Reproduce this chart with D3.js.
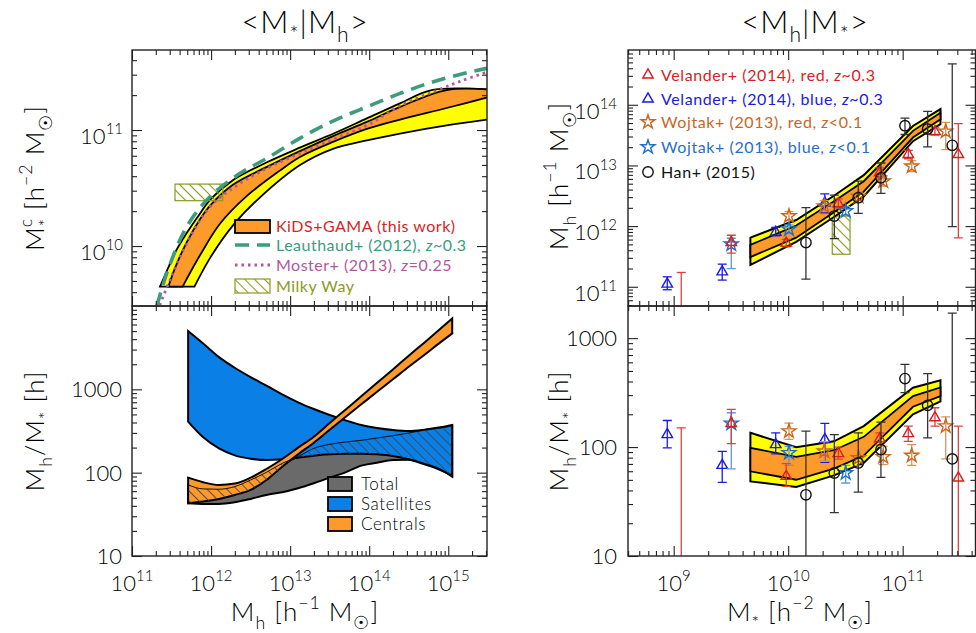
<!DOCTYPE html>
<html>
<head>
<meta charset="utf-8">
<script src="https://cdn.jsdelivr.net/npm/d3@7"></script>
<style>
  body { margin: 0; background: #fff; }
  svg { font-family: Lato, "DejaVu Sans", sans-serif; font-weight: 300; }
  .leg { font-weight: 400; }
</style>
</head>
<body>
<div id="fig"></div>
<script>
const p = v => Math.pow(10, v)

// ---------- top left: <M*|Mh>, pairs of [log Mh, log M*] ----------
const kidsYellowUp = [[11.354, 9.65], [11.45, 9.80], [11.55, 9.95], [11.69, 10.11], [11.85, 10.27], [11.99, 10.40], [12.28, 10.57], [12.7, 10.72], [13.13, 10.85], [13.55, 10.97], [13.97, 11.10], [14.39, 11.23], [14.79, 11.345], [15.6, 11.345]]
const kidsOrangeUp = [[11.46, 9.65], [11.55, 9.82], [11.69, 10.03], [11.85, 10.22], [11.99, 10.35], [12.28, 10.53], [12.7, 10.68], [13.13, 10.82], [13.55, 10.95], [13.97, 11.07], [14.39, 11.20], [14.98, 11.345], [15.6, 11.345]]
const kidsOrangeLo = [[11.64, 9.65], [11.86, 9.92], [12.11, 10.19], [12.45, 10.43], [12.87, 10.65], [13.13, 10.77], [13.55, 10.90], [13.97, 11.01], [14.39, 11.09], [14.98, 11.19], [15.6, 11.30]]
const kidsYellowLo = [[11.79, 9.65], [11.99, 9.90], [12.28, 10.18], [12.62, 10.42], [13.13, 10.70], [13.55, 10.84], [13.97, 10.91], [14.39, 10.97], [14.98, 11.04], [15.6, 11.10]]
const leauthaud = [[11.316, 9.483], [11.439, 9.764], [11.692, 10.166], [11.987, 10.425], [12.367, 10.627], [12.705, 10.756], [13.127, 10.93], [13.549, 11.08], [13.971, 11.20], [14.392, 11.316], [14.814, 11.417], [15.236, 11.494], [15.489, 11.532]]
const moster = [[11.35, 9.49], [11.481, 9.707], [11.692, 10.023], [11.987, 10.339], [12.367, 10.54], [12.705, 10.67], [13.127, 10.80], [13.549, 10.92], [13.971, 11.04], [14.392, 11.21], [14.814, 11.33], [15.152, 11.42], [15.489, 11.50]]
const milkyWayMh = [11.544, 12.148]
const milkyWayMs = [10.391, 10.534]

// ---------- bottom left: Mh/M* against log Mh ----------
const mhGrid = [11.71, 11.9, 12.1, 12.3, 12.5, 12.7, 12.9, 13.1, 13.3, 13.5, 13.7, 13.9, 14.1, 14.3, 14.5, 14.7, 14.9, 15.05]
const satUpper = [3.699, 3.551, 3.387, 3.259, 3.147, 3.044, 2.940, 2.844, 2.764, 2.692, 2.628, 2.572, 2.536, 2.512, 2.500, 2.516, 2.544, 2.572]
const satLower = [2.612, 2.424, 2.292, 2.208, 2.168, 2.152, 2.160, 2.180, 2.204, 2.220, 2.228, 2.228, 2.220, 2.200, 2.160, 2.100, 2.032, 1.964]
const totUpper = [1.853, 1.805, 1.801, 1.833, 1.912, 2.004, 2.112, 2.192, 2.292, 2.340, 2.368, 2.388, 2.416, 2.444, 2.476, 2.512, 2.536, 2.560]
const totLower = [1.633, 1.625, 1.625, 1.645, 1.685, 1.733, 1.765, 1.813, 1.873, 1.940, 2.004, 2.084, 2.120, 2.152, 2.156, 2.112, 2.044, 1.952]
const cenUpper = [1.940, 1.885, 1.853, 1.869, 1.940, 2.044, 2.164, 2.300, 2.432, 2.596, 2.756, 2.916, 3.079, 3.239, 3.403, 3.563, 3.727, 3.851]
const cenLower = [1.633, 1.653, 1.685, 1.733, 1.793, 1.912, 2.072, 2.220, 2.360, 2.516, 2.668, 2.820, 2.972, 3.120, 3.271, 3.415, 3.563, 3.671]

// ---------- right column: <Mh|M*>, band on a log M* grid ----------
const msGrid = [9.67, 10.07, 10.40, 10.66, 11.09, 11.33]
const mhYellowUp = [11.81, 12.10, 12.50, 12.84, 13.65, 13.93]
const mhOrangeUp = [11.69, 12.01, 12.41, 12.74, 13.57, 13.87]
const mhOrangeLo = [11.49, 11.81, 12.23, 12.57, 13.46, 13.76]
const mhYellowLo = [11.36, 11.74, 12.15, 12.49, 13.40, 13.68]
const ratioYellowUp = [2.131, 1.998, 2.053, 2.192, 2.545, 2.613]
const ratioOrangeUp = [1.993, 1.910, 1.971, 2.094, 2.468, 2.548]
const ratioOrangeLo = [1.777, 1.700, 1.802, 1.922, 2.370, 2.468]
const ratioYellowLo = [1.685, 1.633, 1.740, 1.854, 2.300, 2.420]
const milkyWayR = [10.385, 10.54]   // log M* range of the box
const milkyWayRMh = [11.536, 12.166]

// measurements: [log M*, value, low end, high end] (log10)
const velRedMh = [[9.066, 10.3, 9.5, 11.236], [9.503, 11.73, 11.553, 11.849], [9.983, 11.72, 11.66, 11.78], [10.438, 12.37, 12.30, 12.45], [10.80, 12.88, 12.80, 12.96], [11.049, 13.18, 13.11, 13.25], [11.282, 13.56, 13.50, 13.62], [11.486, 13.18, 11.805, 13.688]]
const velBlueMh = [[8.944, 11.044, 10.951, 11.164], [9.424, 11.246, 11.11, 11.373], [9.891, 11.90, 11.84, 11.98], [10.32, 12.38, 12.22, 12.53]]
const wojRedMh = [[10.007, 12.166, 12.09, 12.24], [10.315, 12.33, 12.24, 12.42], [10.615, 12.49, 12.42, 12.56], [10.83, 12.74, 12.66, 12.83], [11.079, 12.987, 12.90, 13.08], [11.376, 13.562, 13.26, 13.71]]
const wojBlueMh = [[9.503, 11.70, 11.30, 11.80], [10.007, 11.95, 11.88, 12.02], [10.502, 12.248, 12.18, 12.32]]
const hanMh = [[10.155, 11.729, 11.126, 12.304], [10.403, 12.166, 11.795, 12.51], [10.612, 12.468, 12.21, 12.74], [10.81, 12.796, 12.54, 13.04], [11.02, 13.655, 13.51, 13.78], [11.218, 13.60, 13.305, 13.89], [11.433, 13.332, 11.99, 14.673]]

const velRedR = [[9.066, 0.5, 0.2, 2.177], [9.503, 2.217, 2.032, 2.346], [9.983, 1.731, 1.639, 1.848], [10.438, 1.94, 1.89, 2.0], [10.80, 2.076, 2.02, 2.131], [11.049, 2.124, 2.053, 2.192], [11.282, 2.269, 2.192, 2.361], [11.486, 1.716, 0.3, 2.192]]
const velBlueR = [[8.944, 2.115, 1.993, 2.244], [9.424, 1.832, 1.676, 1.961], [9.891, 2.023, 1.937, 2.131], [10.32, 2.069, 1.86, 2.217]]
const wojRedR = [[10.007, 2.146, 2.07, 2.22], [10.315, 1.961, 1.87, 2.05], [10.615, 1.90, 1.83, 1.97], [10.83, 1.91, 1.839, 2.007], [11.079, 1.922, 1.832, 2.023], [11.376, 2.192, 1.891, 2.278]]
const wojBlueR = [[9.503, 2.217, 1.80, 2.315], [10.007, 1.947, 1.832, 2.007], [10.502, 1.762, 1.67, 1.832]]
const hanR = [[10.155, 1.562, 0.3, 2.146], [10.403, 1.762, 1.399, 2.115], [10.612, 1.854, 1.587, 2.131], [10.81, 1.977, 1.722, 2.229], [11.02, 2.629, 2.50, 2.76], [11.218, 2.383, 2.085, 2.675], [11.433, 1.891, 0.3, 3.23]]

// tick labels (exponents)
const xLeftTicks = [11, 12, 13, 14, 15]
const yTopLeftTicks = [10, 11]
const xRightTicks = [9, 10, 11]
const yTopRightTicks = [11, 12, 13, 14]
const yRatioTicks = [1, 2, 3]

const C = {
  yellow: "#ffff00", orange: "#fd9a2a", blue: "#0a7fe6", gray: "#6a6a6a",
  leau: "#3d9c7e", moster: "#b5579d", mw: "#8a9a20", kids: "#d42626",
  velRed: "#d81e1e", velBlue: "#1a1ae6", wojRed: "#c8661e", wojBlue: "#1f6fce", han: "#111"
}

const svg = d3.select("#fig").append("svg").attr("width", 976).attr("height", 633)
const defs = svg.append("defs")

function hatch(id, color, gap, w) {
  defs.append("pattern").attr("id", id)
    .attr("patternUnits", "userSpaceOnUse")
    .attr("width", gap).attr("height", gap)
    .attr("patternTransform", "rotate(-45)")
    .append("line")
    .attr("x1", gap / 2).attr("x2", gap / 2).attr("y1", 0).attr("y2", gap)
    .attr("stroke", color).attr("stroke-width", w)
}
hatch("mw", C.mw, 7, 1.1)
hatch("tot", "#3a4a5a", 7, 0.9)

const L = [132, 487], R = [628, 975.5], TOP = [50, 306], BOT = [306, 556]

const xL = d3.scaleLog().domain([p(11), p(15.49)]).range(L)
const yTL = d3.scaleLog().domain([p(9.483), p(11.69)]).range([TOP[1], TOP[0]])
const yBL = d3.scaleLog().domain([p(1), p(4)]).range([BOT[1], BOT[0]])
const xR = d3.scaleLog().domain([p(8.601), p(11.636)]).range(R)
const yTR = d3.scaleLog().domain([p(10.683), p(14.903)]).range([TOP[1], TOP[0]])
const yBR = d3.scaleLog().domain([p(1), p(3.295)]).range([BOT[1], BOT[0]])

function panel(id, x, y, bx, by) {
  defs.append("clipPath").attr("id", id).append("rect")
    .attr("x", bx[0]).attr("y", by[0]).attr("width", bx[1] - bx[0]).attr("height", by[1] - by[0])
  const g = svg.append("g")
  const plot = g.append("g").attr("clip-path", `url(#${id})`)
  return {g, plot, x, y, bx, by}
}

function minorTicks(scale) {
  const [a, b] = scale.domain().map(Math.log10)
  const out = []
  for (let d = Math.floor(a); d < b; d++)
    for (let k = 2; k < 10; k++) {
      const v = d + Math.log10(k)
      if (v > a && v < b) out.push(p(v))
    }
  return out
}

function frame(pn, xMaj, yMaj) {
  const {g, x, y, bx, by} = pn
  const put = (axis, tx, ty) => g.append("g").attr("transform", `translate(${tx},${ty})`).call(axis)
    .call(s => s.select(".domain").remove())
    .call(s => s.selectAll(".tick line").attr("stroke", "#222").attr("stroke-width", 1.1))
  for (const [vals, len] of [[xMaj.map(p), 10], [minorTicks(x), 5]]) {
    put(d3.axisBottom(x).tickValues(vals).tickSize(-len).tickFormat(""), 0, by[1])
    put(d3.axisTop(x).tickValues(vals).tickSize(-len).tickFormat(""), 0, by[0])
  }
  for (const [vals, len] of [[yMaj.map(p), 10], [minorTicks(y), 5]]) {
    put(d3.axisLeft(y).tickValues(vals).tickSize(-len).tickFormat(""), bx[0], 0)
    put(d3.axisRight(y).tickValues(vals).tickSize(-len).tickFormat(""), bx[1], 0)
  }
  g.append("rect").attr("x", bx[0]).attr("y", by[0])
    .attr("width", bx[1] - bx[0]).attr("height", by[1] - by[0])
    .attr("fill", "none").attr("stroke", "#222").attr("stroke-width", 1.4)
}

// text with sub/superscripts: parts = [text, "sub"|"sup"|null, dx]
function rich(t, parts, size) {
  let off = 0
  t.attr("font-size", size)
  parts.forEach(([s, k, dx]) => {
    const target = k === "sub" ? size * 0.3 : k === "sup" ? -size * 0.45 : 0
    const ts = t.append("tspan").attr("dy", target - off).attr("font-size", k ? size * 0.68 : size).text(s)
    if (dx) ts.attr("dx", dx)
    off = target
  })
  return t
}

const TICK = 22
function xPowLabels(x, exps, yb) {
  exps.forEach(e => rich(svg.append("text").attr("x", x(p(e))).attr("y", yb).attr("text-anchor", "middle"),
    [["10"], [String(e), "sup"]], TICK))
}
function yPowLabels(y, exps, xr) {
  exps.forEach(e => rich(svg.append("text").attr("x", xr).attr("y", y(p(e)) + 14).attr("text-anchor", "end"),
    [["10"], [String(e), "sup"]], TICK))
}
function yPlainLabels(y, exps, xr) {
  exps.forEach(e => svg.append("text").attr("x", xr).attr("y", y(p(e)) + 8).attr("text-anchor", "end")
    .attr("font-size", TICK).text(String(Math.round(p(e)))))
}

// ================= top left =================
const tl = panel("c-tl", xL, yTL, L, TOP)
const lineTL = d3.line().x(d => xL(p(d[0]))).y(d => yTL(p(d[1]))).curve(d3.curveCatmullRom.alpha(0.5))
const bandTL = (up, lo) => lineTL(up) + "L" + lineTL(lo.slice().reverse()).slice(1) + "Z"

tl.plot.append("path").attr("d", bandTL(kidsYellowUp, kidsYellowLo))
  .attr("fill", C.yellow).attr("stroke", "#000").attr("stroke-width", 1.8)
tl.plot.append("path").attr("d", bandTL(kidsOrangeUp, kidsOrangeLo))
  .attr("fill", C.orange).attr("stroke", "#000").attr("stroke-width", 1.8)
tl.plot.append("rect")
  .attr("x", xL(p(milkyWayMh[0]))).attr("y", yTL(p(milkyWayMs[1])))
  .attr("width", xL(p(milkyWayMh[1])) - xL(p(milkyWayMh[0])))
  .attr("height", yTL(p(milkyWayMs[0])) - yTL(p(milkyWayMs[1])))
  .attr("fill", "url(#mw)").attr("stroke", C.mw).attr("stroke-width", 1.2)
tl.plot.append("path").attr("d", lineTL(leauthaud)).attr("fill", "none")
  .attr("stroke", C.leau).attr("stroke-width", 3.6).attr("stroke-dasharray", "14,8")
tl.plot.append("path").attr("d", lineTL(moster)).attr("fill", "none")
  .attr("stroke", C.moster).attr("stroke-width", 2.8).attr("stroke-dasharray", "2.5,4")

const legTL = tl.g.append("g").attr("class", "leg").attr("font-size", 16).attr("letter-spacing", 0.5)
legTL.append("rect").attr("x", 235).attr("y", 220).attr("width", 35).attr("height", 13)
  .attr("fill", C.orange).attr("stroke", "#000").attr("stroke-width", 1.8)
legTL.append("text").attr("x", 276).attr("y", 232).attr("fill", C.kids).text("KiDS+GAMA (this work)")
legTL.append("line").attr("x1", 235).attr("x2", 270).attr("y1", 245).attr("y2", 245)
  .attr("stroke", C.leau).attr("stroke-width", 3.6).attr("stroke-dasharray", "14,8")
const t2 = legTL.append("text").attr("x", 276).attr("y", 251).attr("fill", C.leau)
t2.append("tspan").text("Leauthaud+ (2012), ")
t2.append("tspan").attr("font-style", "italic").text("z")
t2.append("tspan").text("~0.3")
legTL.append("line").attr("x1", 235).attr("x2", 270).attr("y1", 265).attr("y2", 265)
  .attr("stroke", C.moster).attr("stroke-width", 2.8).attr("stroke-dasharray", "2.5,4")
const t3 = legTL.append("text").attr("x", 276).attr("y", 271).attr("fill", C.moster)
t3.append("tspan").text("Moster+ (2013), ")
t3.append("tspan").attr("font-style", "italic").text("z")
t3.append("tspan").text("=0.25")
legTL.append("rect").attr("x", 235).attr("y", 279).attr("width", 35).attr("height", 14)
  .attr("fill", "url(#mw)").attr("stroke", C.mw).attr("stroke-width", 1.2)
legTL.append("text").attr("x", 276).attr("y", 292).attr("fill", C.mw).text("Milky Way")
frame(tl, xLeftTicks, yTopLeftTicks)

// ================= bottom left =================
const bl = panel("c-bl", xL, yBL, L, BOT)
const areaBL = (lo, hi) => d3.area()
  .x((d, i) => xL(p(mhGrid[i])))
  .y0((d, i) => yBL(p(lo[i])))
  .y1((d, i) => yBL(p(hi[i])))
  .curve(d3.curveMonotoneX)(mhGrid)

// hatching of the total band only shows where it overlaps the other two bands
const overlap = defs.append("clipPath").attr("id", "c-overlap")
overlap.append("path").attr("d", areaBL(satLower, satUpper))
overlap.append("path").attr("d", areaBL(cenLower, cenUpper))

bl.plot.append("path").attr("d", areaBL(totLower, totUpper))
  .attr("fill", C.gray).attr("stroke", "#000").attr("stroke-width", 2)
bl.plot.append("path").attr("d", areaBL(satLower, satUpper))
  .attr("fill", C.blue).attr("stroke", "#000").attr("stroke-width", 2)
bl.plot.append("path").attr("d", areaBL(cenLower, cenUpper))
  .attr("fill", C.orange).attr("stroke", "#000").attr("stroke-width", 2)
bl.plot.append("g").attr("clip-path", "url(#c-overlap)")
  .append("path").attr("d", areaBL(totLower, totUpper))
  .attr("fill", "url(#tot)").attr("stroke", "#000").attr("stroke-width", 0.9)

const legBL = bl.g.append("g").attr("font-size", 17).attr("letter-spacing", 0.6)
;[["Total", C.gray], ["Satellites", C.blue], ["Centrals", C.orange]].forEach(([name, col], i) => {
  legBL.append("rect").attr("x", 328).attr("y", 477 + i * 20).attr("width", 24).attr("height", 14)
    .attr("fill", col).attr("stroke", "#000").attr("stroke-width", 1.8)
  legBL.append("text").attr("x", 361).attr("y", 490 + i * 20).text(name)
})
frame(bl, xLeftTicks, yRatioTicks)

// ================= right panels =================
function bandR(pn, up, lo) {
  return d3.area()
    .x((d, i) => pn.x(p(msGrid[i])))
    .y0((d, i) => pn.y(p(lo[i])))
    .y1((d, i) => pn.y(p(up[i])))(msGrid)
}

function marker(s, kind, cx, cy, color) {
  if (kind === "circle") {
    s.append("circle").attr("cx", cx).attr("cy", cy).attr("r", 5.2)
      .attr("fill", "none").attr("stroke", color).attr("stroke-width", 1.4)
  } else {
    const type = kind === "star" ? d3.symbolStar : d3.symbolTriangle
    const size = kind === "star" ? 60 : 48
    s.append("path").attr("d", d3.symbol().type(type).size(size)())
      .attr("transform", `translate(${cx},${cy})`)
      .attr("fill", "none").attr("stroke", color).attr("stroke-width", 1.4)
  }
}

function points(pn, data, kind, color, barColor) {
  const s = pn.plot.append("g")
  data.forEach(([m, v, lo, hi]) => {
    const cx = pn.x(p(m)), cy = pn.y(p(v))
    const ylo = pn.y(p(lo)), yhi = pn.y(p(hi))
    s.append("line").attr("x1", cx).attr("x2", cx).attr("y1", ylo).attr("y2", yhi)
      .attr("stroke", barColor).attr("stroke-width", 1.3)
    for (const yy of [ylo, yhi])
      s.append("line").attr("x1", cx - 4.5).attr("x2", cx + 4.5).attr("y1", yy).attr("y2", yy)
        .attr("stroke", barColor).attr("stroke-width", 1.3)
    marker(s, kind, cx, cy, color)
  })
}

function rightPanel(pn, up, oup, olo, lo, sets) {
  pn.plot.append("path").attr("d", bandR(pn, up, lo))
    .attr("fill", C.yellow).attr("stroke", "#000").attr("stroke-width", 2)
  pn.plot.append("path").attr("d", bandR(pn, oup, olo))
    .attr("fill", C.orange).attr("stroke", "#000").attr("stroke-width", 1.8)
  sets.forEach(([d, kind, col, bar]) => points(pn, d, kind, col, bar))
}

const tr = panel("c-tr", xR, yTR, R, TOP)
tr.plot.append("rect")
  .attr("x", xR(p(milkyWayR[0]))).attr("y", yTR(p(milkyWayRMh[1])))
  .attr("width", xR(p(milkyWayR[1])) - xR(p(milkyWayR[0])))
  .attr("height", yTR(p(milkyWayRMh[0])) - yTR(p(milkyWayRMh[1])))
  .attr("fill", "url(#mw)").attr("stroke", C.mw).attr("stroke-width", 1.2)
rightPanel(tr, mhYellowUp, mhOrangeUp, mhOrangeLo, mhYellowLo, [
  [velBlueMh, "triangle", C.velBlue, C.velBlue],
  [wojBlueMh, "star", C.wojBlue, "#5b9ad8"],
  [velRedMh, "triangle", C.velRed, "#dd4040"],
  [wojRedMh, "star", C.wojRed, "#d8955a"],
  [hanMh, "circle", C.han, "#333"]
])

const legTR = tr.g.append("g").attr("class", "leg").attr("font-size", 16).attr("letter-spacing", 0.6)
;[
  ["triangle", C.velRed, "Velander+ (2014), red, ", "z", "~0.3"],
  ["triangle", C.velBlue, "Velander+ (2014), blue, ", "z", "~0.3"],
  ["star", C.wojRed, "Wojtak+ (2013), red, ", "z", "<0.1"],
  ["star", C.wojBlue, "Wojtak+ (2013), blue, ", "z", "<0.1"],
  ["circle", "#111", "Han+ (2015)", "", ""]
].forEach(([kind, col, a, z, b], i) => {
  const cy = [75, 99, 122, 147, 172][i]
  marker(legTR, kind, 648, cy, col)
  const t = legTR.append("text").attr("x", 661).attr("y", cy + 5.5).attr("fill", col)
  t.append("tspan").text(a)
  if (z) { t.append("tspan").attr("font-style", "italic").text(z); t.append("tspan").text(b) }
})
frame(tr, xRightTicks, yTopRightTicks)

const br = panel("c-br", xR, yBR, R, BOT)
rightPanel(br, ratioYellowUp, ratioOrangeUp, ratioOrangeLo, ratioYellowLo, [
  [velBlueR, "triangle", C.velBlue, C.velBlue],
  [wojBlueR, "star", C.wojBlue, "#5b9ad8"],
  [velRedR, "triangle", C.velRed, "#dd4040"],
  [wojRedR, "star", C.wojRed, "#d8955a"],
  [hanR, "circle", C.han, "#333"]
])
frame(br, xRightTicks, yRatioTicks)

// ================= labels =================
xPowLabels(xL, xLeftTicks, 591)
xPowLabels(xR, xRightTicks, 591)
yPowLabels(yTL, yTopLeftTicks, 123)
yPowLabels(yTR, yTopRightTicks, 617)
yPlainLabels(yBL, yRatioTicks, 122)
yPlainLabels(yBR, yRatioTicks, 617)

const big = sel => sel.attr("letter-spacing", 1)
big(rich(svg.append("text").attr("x", 305).attr("y", 33).attr("text-anchor", "middle"),
  [["<M"], ["*", "sub"], ["|M"], ["h", "sub"], [">"]], 31))
big(rich(svg.append("text").attr("x", 805).attr("y", 33).attr("text-anchor", "middle"),
  [["<M"], ["h", "sub"], ["|M"], ["*", "sub"], [">"]], 31))

big(rich(svg.append("text").attr("x", 305).attr("y", 621).attr("text-anchor", "middle"),
  [["M"], ["h", "sub"], [" [h"], ["−1", "sup"], [" M"], ["☉", "sub"], ["]"]], 26))
big(rich(svg.append("text").attr("x", 800).attr("y", 621).attr("text-anchor", "middle"),
  [["M"], ["*", "sub"], [" [h"], ["−2", "sup"], [" M"], ["☉", "sub"], ["]"]], 26))

big(rich(svg.append("text").attr("transform", "translate(44,178) rotate(-90)").attr("text-anchor", "middle"),
  [["M"], ["*", "sub"], ["c", "sup", -9], [" [h"], ["−2", "sup"], [" M"], ["☉", "sub"], ["]"]], 26))
big(rich(svg.append("text").attr("transform", "translate(44,431) rotate(-90)").attr("text-anchor", "middle"),
  [["M"], ["h", "sub"], ["/M"], ["*", "sub"], [" [h]"]], 26))
big(rich(svg.append("text").attr("transform", "translate(568,176) rotate(-90)").attr("text-anchor", "middle"),
  [["M"], ["h", "sub"], [" [h"], ["−1", "sup"], [" M"], ["☉", "sub"], ["]"]], 26))
big(rich(svg.append("text").attr("transform", "translate(568,431) rotate(-90)").attr("text-anchor", "middle"),
  [["M"], ["h", "sub"], ["/M"], ["*", "sub"], [" [h]"]], 26))
</script>
</body>
</html>
